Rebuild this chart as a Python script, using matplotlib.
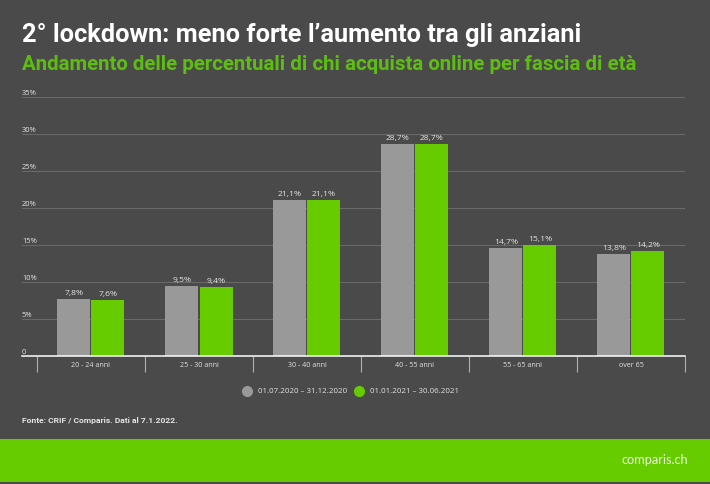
import matplotlib
matplotlib.use("Agg")
import matplotlib.pyplot as plt
from matplotlib.lines import Line2D
from matplotlib.patches import Rectangle
import numpy as np

categories = ["20 - 24 anni", "25 - 30 anni", "30 - 40 anni", "40 - 55 anni", "55 - 65 anni", "over 65"]
period_1 = [7.8, 9.5, 21.1, 28.7, 14.7, 13.8]
period_2 = [7.6, 9.4, 21.1, 28.7, 15.1, 14.2]
labels_1 = ["7,8%", "9,5%", "21,1%", "28,7%", "14,7%", "13,8%"]
labels_2 = ["7,6%", "9,4%", "21,1%", "28,7%", "15,1%", "14,2%"]
y_ticks = [0, 5, 10, 15, 20, 25, 30, 35]
y_labels = ["0", "5%", "10%", "15%", "20%", "25%", "30%", "35%"]
legend_labels = ["01.07.2020 – 31.12.2020", "01.01.2021 – 30.06.2021"]

BG = "#4a4a4a"; GREEN = "#66cc00"; GRAY = "#999999"; TXT = "#e2e2e2"; GRID = "#696969"
W, H = 710, 484
plt.rcParams["font.family"] = ["Open Sans", "DejaVu Sans"]

fig = plt.figure(figsize=(W / 100, H / 100), dpi=100, facecolor=BG)
ax = fig.add_axes([22 / W, 1 - 356.3 / H, (685 - 22) / W, (356.3 - 97.3) / H], facecolor=BG)

x = np.arange(len(categories))
bw = 33 / 108
off = 17 / 108
b1 = ax.bar(x - off, period_1, bw, color=GRAY, zorder=3)
b2 = ax.bar(x + off, period_2, bw, color=GREEN, zorder=3)
ax.bar_label(b1, labels=labels_1, color=TXT, fontsize=6.1, padding=1.4)
ax.bar_label(b2, labels=labels_2, color=TXT, fontsize=6.1, padding=1.4)

ax.set_xlim((22 - 91) / 108, 5.5)
ax.set_ylim(0, 35)
for s in ["top", "left", "right"]:
    ax.spines[s].set_visible(False)
ax.spines["bottom"].set_color("white")
ax.spines["bottom"].set_linewidth(1.1)
ax.spines["bottom"].set_zorder(5)

ax.set_yticks(y_ticks, y_labels)
ax.tick_params(axis="y", length=0, pad=0, labelsize=5.4, labelcolor=TXT)
for t in ax.get_yticklabels():
    t.set_ha("left")
    t.set_va("bottom")
ax.grid(axis="y", color=GRID, linewidth=0.8, zorder=1)
ax.set_axisbelow(True)

ax.set_xticks(x, categories)
ax.tick_params(axis="x", which="major", length=0, pad=4, labelsize=5.1, labelcolor=TXT)
ax.set_xticks(np.arange(len(categories) + 1) - 0.5, minor=True)
ax.tick_params(axis="x", which="minor", length=11.5, width=0.8, color="#b0b0b0")

handles = [
    Line2D([], [], marker="o", linestyle="none", color=GRAY, markersize=7),
    Line2D([], [], marker="o", linestyle="none", color=GREEN, markersize=7),
]
fig.legend(handles, legend_labels, loc="center", bbox_to_anchor=(349 / W, 1 - 391.5 / H), ncol=2,
           frameon=False, fontsize=5.7, labelcolor=TXT, handletextpad=0.4, columnspacing=0.5)

fig.text(22 / W, 1 - 35 / H, "2° lockdown: meno forte l’aumento tra gli anziani", color="white",
         fontsize=18.25, fontweight="bold", family="Roboto", va="center", ha="left")
fig.text(22 / W, 1 - 65 / H, "Andamento delle percentuali di chi acquista online per fascia di età", color="#5cbf10",
         fontsize=14.7, fontweight="bold", family="Roboto", va="center", ha="left")
fig.text(22 / W, 1 - 420.5 / H, "Fonte: CRIF / Comparis. Dati al 7.1.2022.", color=TXT,
         fontsize=6.1, fontweight="bold", family="Roboto", va="center", ha="left")

fig.add_artist(Rectangle((0, 1 - 481.7 / H), 1, 43 / H, transform=fig.transFigure, color=GREEN, lw=0))
fig.text(688 / W, 1 - 460 / H, "comparis.ch", color="#e8f5d8", fontsize=9.2, family="Lato", va="center", ha="right")

fig.savefig("out.png", dpi=100, facecolor=BG)
